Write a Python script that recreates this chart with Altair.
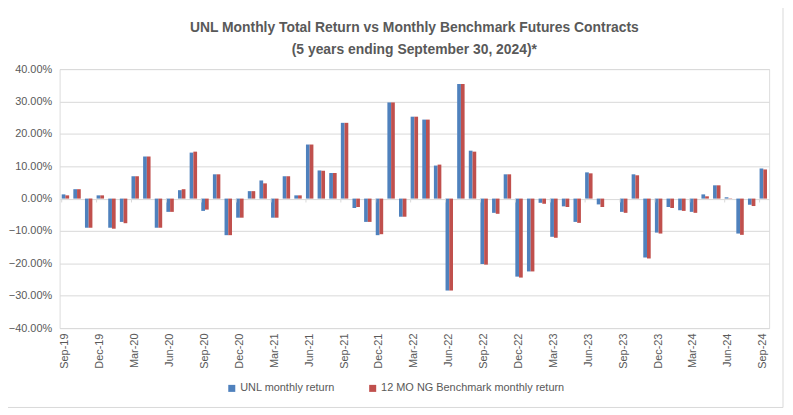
import altair as alt
import pandas as pd

months = [
    "Sep-19", "Oct-19", "Nov-19", "Dec-19",
    "Jan-20", "Feb-20", "Mar-20", "Apr-20", "May-20", "Jun-20", "Jul-20", "Aug-20", "Sep-20", "Oct-20", "Nov-20", "Dec-20",
    "Jan-21", "Feb-21", "Mar-21", "Apr-21", "May-21", "Jun-21", "Jul-21", "Aug-21", "Sep-21", "Oct-21", "Nov-21", "Dec-21",
    "Jan-22", "Feb-22", "Mar-22", "Apr-22", "May-22", "Jun-22", "Jul-22", "Aug-22", "Sep-22", "Oct-22", "Nov-22", "Dec-22",
    "Jan-23", "Feb-23", "Mar-23", "Apr-23", "May-23", "Jun-23", "Jul-23", "Aug-23", "Sep-23", "Oct-23", "Nov-23", "Dec-23",
    "Jan-24", "Feb-24", "Mar-24", "Apr-24", "May-24", "Jun-24", "Jul-24", "Aug-24", "Sep-24",
]

unl = [
    1.3, 2.9, -9.0, 1.0,
    -9.0, -7.2, 6.9, 13.0, -9.0, -4.1, 2.6, 14.2, -3.8, 7.5, -11.3, -5.9,
    2.3, 5.6, -5.9, 6.9, 1.0, 16.7, 8.7, 7.9, 23.4, -2.9, -7.2, -11.3,
    29.7, -5.6, 25.3, 24.4, 10.2, -28.4, 35.4, 14.8, -20.2, -4.4, 7.5, -24.1,
    -22.5, -1.3, -11.8, -2.4, -7.2, 8.1, -1.8, 0.0, -4.1, 7.5, -18.2, -10.5,
    -2.6, -3.6, -4.1, 1.3, 4.1, 0.4, -10.8, -1.9, 9.3,
]

bench = [
    1.0, 2.9, -9.0, 1.0,
    -9.3, -7.6, 6.9, 13.0, -9.0, -4.1, 2.9, 14.5, -3.4, 7.5, -11.3, -5.9,
    2.3, 4.7, -5.9, 6.9, 1.0, 16.7, 8.6, 7.9, 23.4, -2.6, -7.2, -11.0,
    29.7, -5.6, 25.3, 24.4, 10.5, -28.4, 35.4, 14.5, -20.4, -4.7, 7.5, -24.4,
    -22.5, -1.6, -12.1, -2.6, -7.5, 7.8, -2.6, 0.0, -4.4, 7.2, -18.5, -10.8,
    -2.9, -3.8, -4.4, 0.7, 4.1, 0.1, -11.2, -2.3, 9.0,
]

series_names = ["UNL monthly return", "12 MO NG Benchmark monthly return"]
colors = ["#4F81BD", "#C0504D"]
y_ticks = [-0.4, -0.3, -0.2, -0.1, 0.0, 0.1, 0.2, 0.3, 0.4]

rows = []
for i, m in enumerate(months):
    rows.append({"month": m, "series": series_names[0], "value": unl[i] / 100})
    rows.append({"month": m, "series": series_names[1], "value": bench[i] / 100})
df = pd.DataFrame(rows)

label_months = [m for i, m in enumerate(months) if i % 3 == 0]
label_expr = "indexof(" + str(label_months).replace("'", '"') + ", datum.value) >= 0 ? datum.value : ''"
tick_df = pd.DataFrame({"month": label_months, "zero": [0.0] * len(label_months),
                        "tick": [-0.012] * len(label_months)})

FONT = "Liberation Sans"
GRAY = "#595959"
GRID = "#D9D9D9"

W, H = 715, 261

x_scale = alt.Scale(domain=months, paddingInner=0.36, paddingOuter=0.18)
x_axis = alt.Axis(
    title=None,
    labelAngle=270,
    labelExpr=label_expr,
    labelFont=FONT,
    labelFontSize=11,
    labelColor=GRAY,
    labelPadding=5,
    domain=False,
    ticks=False,
    grid=False,
)
y_scale = alt.Scale(domain=[-0.4, 0.4], nice=False)
y_axis = alt.Axis(
    title=None,
    format=".2%",
    values=y_ticks,
    labelFont=FONT,
    labelFontSize=11,
    labelColor=GRAY,
    labelPadding=8,
    labelOverlap=False,
    domain=False,
    ticks=False,
    gridColor=GRID,
    gridWidth=1,
)

bars = alt.Chart(df).mark_bar().encode(
    x=alt.X("month:N", scale=x_scale, axis=x_axis),
    xOffset=alt.XOffset("series:N", sort=series_names, scale=alt.Scale(paddingInner=0.0)),
    y=alt.Y("value:Q", scale=y_scale, axis=y_axis),
    color=alt.Color(
        "series:N",
        sort=series_names,
        scale=alt.Scale(domain=series_names, range=colors),
        legend=alt.Legend(
            title=None,
            orient="none",
            direction="horizontal",
            legendX=168,
            legendY=316,
            symbolType="square",
            symbolSize=50,
            symbolStrokeWidth=0,
            labelFont=FONT,
            labelFontSize=11,
            labelColor=GRAY,
            labelLimit=400,
            columnPadding=32,
            labelOffset=3,
        ),
    ),
)

zero_ticks = alt.Chart(tick_df).mark_rule(color=GRID, strokeWidth=1).encode(
    x=alt.X("month:N", scale=x_scale, axis=x_axis, bandPosition=0),
    y=alt.Y("zero:Q", scale=y_scale, axis=y_axis),
    y2=alt.Y2("tick:Q"),
)

# light frame around the whole chart (decoration only)
one = pd.DataFrame({"a": [0]})
L, R, T, B = -57, 729, -65, 341
frame_style = dict(color=GRID, strokeWidth=1)
frame_top = alt.Chart(one).mark_rule(**frame_style).encode(x=alt.value(L), x2=alt.value(R), y=alt.value(T))
frame_bottom = alt.Chart(one).mark_rule(**frame_style).encode(x=alt.value(L), x2=alt.value(R), y=alt.value(B))
frame_left = alt.Chart(one).mark_rule(**frame_style).encode(x=alt.value(L), y=alt.value(T), y2=alt.value(B))
frame_right = alt.Chart(one).mark_rule(**frame_style).encode(x=alt.value(R), y=alt.value(T), y2=alt.value(B))

chart = (
    alt.layer(bars, zero_ticks, frame_top, frame_bottom, frame_left, frame_right)
    .properties(
        width=W,
        height=H,
        autosize=alt.AutoSizeParams(type="none"),
        padding={"left": 52, "top": 60, "right": 16, "bottom": 84},
        title=alt.TitleParams(
            text=["UNL Monthly Total Return vs Monthly Benchmark Futures Contracts",
                  "(5 years ending September 30, 2024)*"],
            font=FONT,
            fontSize=14,
            fontWeight="bold",
            color=GRAY,
            anchor="middle",
            lineHeight=22,
            offset=-53,
        ),
    )
    .configure_view(stroke=None)
    .configure(background="white")
)

chart.save("out.html", embed_options={"renderer": "svg", "actions": False})
